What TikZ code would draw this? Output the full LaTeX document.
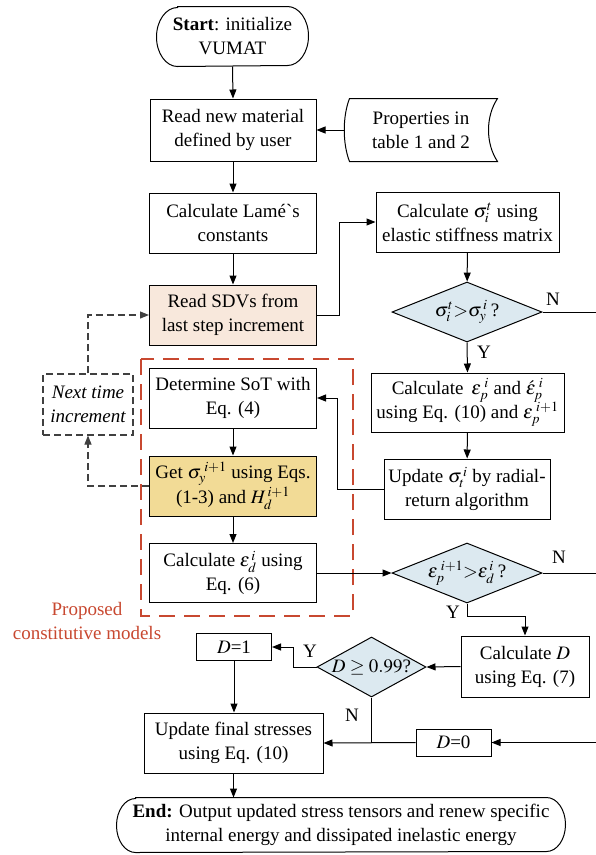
\documentclass[tikz,border=0pt]{standalone}
\usepackage{mathptmx}
\usepackage{fontspec}
\setmainfont{Liberation Serif}
\usetikzlibrary{arrows.meta,shapes.geometric}
\definecolor{peach}{RGB}{248,232,220}
\definecolor{gold}{RGB}{242,219,150}
\definecolor{lblue}{RGB}{220,233,240}
\definecolor{redd}{RGB}{200,72,48}
\newcommand\termbox[3]{\draw ([xshift=#2]#1.north west) -- ([xshift=-#2]#1.north east) arc[start angle=90,end angle=-90,x radius=#2,y radius=#3] -- ([xshift=#2]#1.south west) arc[start angle=270,end angle=90,x radius=#2,y radius=#3] -- cycle;}
\begin{document}
\begin{tikzpicture}[x=1pt,y=-1pt,
  font=\fontsize{19}{24}\selectfont,
  >={Triangle[length=9pt,width=7pt]},
  line width=1pt,
  proc/.style={draw, rectangle, align=center, inner sep=0pt, minimum width=#1, minimum height=60pt},
  proc/.default=167pt,
  dec/.style={draw, shape=diamond, fill=lblue, inner sep=0pt, minimum width=150pt, minimum height=60pt, aspect=2.5},
  lab/.style={inner sep=0pt},
  gdash/.style={draw=black!75, line width=1.1pt, dash pattern=on 7pt off 4pt}
]
\useasboundingbox (0,0) rectangle (596,855);

% terminals
\node[align=center, minimum width=151pt, minimum height=59pt, inner sep=0pt] (start) at (232.5,36.5) {\textbf{Start}: initialize\\VUMAT};
\termbox{start}{21pt}{29.5pt}

\node[proc=166pt, minimum height=62pt] (read) at (233,130) {Read new material\\defined by user};
\node[align=center, minimum width=152pt, minimum height=62pt, inner sep=0pt] (prop) at (421,130) {Properties in\\table 1 and 2};
\draw ([xshift=5pt]prop.north west) -- (prop.north east)
  .. controls ([xshift=-12pt,yshift=-18pt]prop.north east) and ([xshift=-12pt,yshift=18pt]prop.south east) .. (prop.south east)
  -- ([xshift=5pt]prop.south west)
  .. controls ([xshift=-2pt,yshift=18pt]prop.south west) and ([xshift=-2pt,yshift=-18pt]prop.north west) .. ([xshift=5pt]prop.north west) -- cycle;

\node[proc] (lame) at (233,223) {Calculate Lamé\textasciigrave s\\constants};
\node[proc, fill=peach] (sdv) at (233,315) {Read SDVs from\\last step increment};
\node[proc=183pt] (calcs) at (467.5,222) {Calculate $\sigma_i^t$ using\\elastic stiffness matrix};
\node[dec] (d1) at (467,312) {$\sigma_i^t{>}\sigma_y^{\,i}$\,?};
\node[proc=193pt, minimum height=59pt] (calce) at (467.5,402.5) {Calculate\, $\varepsilon_p^{\;i}$ and $\acute{\varepsilon}_p^{\;i}$\\using Eq. (10) and $\varepsilon_p^{\;i+1}$};
\node[proc=166pt] (upd) at (467,489) {Update $\sigma_t^{\,i}$ by radial-\\return algorithm};

\node[proc] (det) at (233,398) {Determine SoT with\\Eq. (4)};
\node[proc, fill=gold] (get) at (233,486) {Get $\sigma_y^{\;i+1}$ using Eqs.\\(1-3) and $H_d^{\,i+1}$};
\node[proc, minimum height=59pt] (calced) at (233,573) {Calculate $\varepsilon_d^{\,i}$ using\\Eq. (6)};
\node[dec] (d2) at (467,573) {$\varepsilon_p^{\;i+1}{>}\varepsilon_d^{\,i}$\,?};
\node[proc=128pt, minimum height=61pt] (calcD) at (525,666.5) {Calculate $D$\\using Eq. (7)};
\node[dec, minimum width=109pt, aspect=1.8] (d3) at (371.5,667) {$D\geq0.99$?};
\node[proc=75pt, minimum height=27pt] (D1) at (234,647) {$D$=1};
\node[proc=179pt] (upf) at (233.5,743) {Update final stresses\\using Eq. (10)};
\node[proc=75pt, minimum height=27pt] (D0) at (453.5,742.5) {$D$=0};

\node[align=center, minimum width=448pt, minimum height=54pt, inner sep=0pt] (end) at (341,825) {\textbf{End:} Output updated stress tensors and renew specific\\internal energy and dissipated inelastic energy};
\termbox{end}{19pt}{27pt}

\node[gdash, align=center, minimum width=90pt, minimum height=61pt, inner sep=0pt, font=\fontsize{19}{24}\selectfont\itshape] (next) at (88,404.5) {Next time\\increment};

% red dashed region
\draw[draw=redd, line width=1.4pt, dash pattern=on 16pt off 9pt] (141,359) rectangle (353,616);
\node[text=redd, align=center, lab] (prop2) at (87,621) {Proposed\\constitutive models};

% connectors
\draw[->] (start.south) -- (read.north);
\draw[->] (prop.west) -- (read.east);
\draw[->] (read) -- (lame);
\draw[->] (lame) -- (sdv);
\draw[->] (sdv.east) -- ++(22,0) |- (calcs.west);
\draw[->] (calcs) -- (d1);
\coordinate (r1) at (596,312);
\draw (d1.east) -- (r1);
\node[lab] (n1) at (553,299) {N};
\draw[->] (d1.south) -- (calce.north);
\node[lab] (y1) at (484,352) {Y};
\draw[->] (calce) -- (upd);
\draw[->] (upd.west) -- ++(-46,0) |- (det.east);
\draw[->] (det) -- (get);
\draw[->] (get) -- (calced);
\draw[gdash, ->] (get.west) -| (next.south);
\draw[gdash, ->] (next.north) |- (sdv.west);
\draw[->] (calced.east) -- (d2.west);
\coordinate (r2) at (596,573);
\draw (d2.east) -- (r2);
\node[lab] (n2) at (559,557) {N};
\draw[->] (d2.south) -- ++(0,13) -| (calcD.north);
\node[lab] (y2) at (453,612) {Y};
\draw[->] (calcD.west) -- (d3.east);
\draw[->] (d3.west) -- (293,667) |- (D1.east);
\node[lab] (y3) at (310,651) {Y};
\draw[->] (D1.south) -- (D1.south |- upf.north);
\coordinate (j3) at (d3.south |- D0.west);
\draw (d3.south) -- (j3);
\node[lab] (n3) at (352,715) {N};
\coordinate (r3) at (596,742.5);
\draw[->] (r3) -- (D0.east);
\draw[->] (D0.west) -- (upf.east);
\draw[->] (upf.south) -- (upf.south |- end.north);
\end{tikzpicture}
\end{document}
